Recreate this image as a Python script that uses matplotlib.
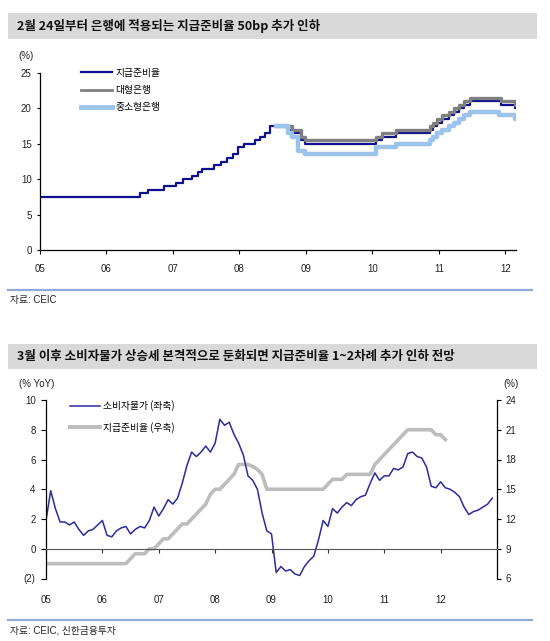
import matplotlib
matplotlib.use('Agg')
import matplotlib.pyplot as plt
import numpy as np
from matplotlib.patches import Rectangle
from matplotlib.lines import Line2D

plt.rcParams['font.family'] = ['Liberation Sans', 'Noto Sans CJK KR', 'DejaVu Sans']

# ---------------- data ----------------
title_top = "2월 24일부터 은행에 적용되는 지급준비율 50bp 추가 인하"
title_bottom = "3월 이후 소비자물가 상승세 본격적으로 둔화되면 지급준비율 1~2차례 추가 인하 전망"
source_top = "자료: CEIC"
source_bottom = "자료: CEIC, 신한금융투자"

top_labels = ["지급준비율", "대형은행", "중소형은행"]
bottom_labels = ["소비자물가 (좌축)", "지급준비율 (우축)"]

year_ticks = [2005, 2006, 2007, 2008, 2009, 2010, 2011, 2012]
year_labels = ["05", "06", "07", "08", "09", "10", "11", "12"]

# Reserve requirement ratio (step change points, decimal year)
rrr_dates = [2005.0, 2006.51, 2006.62, 2006.87, 2007.04, 2007.15, 2007.29, 2007.37, 2007.43,
             2007.62, 2007.73, 2007.82, 2007.90, 2007.98, 2008.07, 2008.23, 2008.31, 2008.38,
             2008.46, 2008.73, 2008.79, 2008.93, 2008.98, 2010.05, 2010.15, 2010.36, 2010.87,
             2010.91, 2010.97, 2011.05, 2011.15, 2011.23, 2011.31, 2011.38, 2011.47, 2011.93,
             2012.15, 2012.16]
rrr_vals = [7.5, 8.0, 8.5, 9.0, 9.5, 10.0, 10.5, 11.0, 11.5,
            12.0, 12.5, 13.0, 13.5, 14.5, 15.0, 15.5, 16.0, 16.5,
            17.5, 17.0, 16.5, 15.5, 15.0, 15.5, 16.0, 16.5, 17.0,
            17.5, 18.0, 18.5, 19.0, 19.5, 20.0, 20.5, 21.0, 20.5,
            20.0, 20.0]

big_dates = [2008.55, 2008.79, 2008.93, 2008.98, 2010.05, 2010.15, 2010.36, 2010.87, 2010.91,
             2010.97, 2011.05, 2011.15, 2011.23, 2011.31, 2011.38, 2011.47, 2011.93, 2012.15, 2012.16]
big_vals = [17.5, 17.0, 16.0, 15.5, 16.0, 16.5, 17.0, 17.5, 18.0,
            18.5, 19.0, 19.5, 20.0, 20.5, 21.0, 21.5, 21.0, 20.5, 20.5]

small_dates = [2008.55, 2008.73, 2008.79, 2008.88, 2008.98, 2010.05, 2010.36, 2010.87, 2010.91,
               2010.97, 2011.05, 2011.15, 2011.23, 2011.31, 2011.38, 2011.47, 2011.90, 2012.15, 2012.16]
small_vals = [17.5, 16.5, 16.0, 14.0, 13.5, 14.5, 15.0, 15.5, 16.0,
              16.5, 17.0, 17.5, 18.0, 18.5, 19.0, 19.5, 19.0, 18.5, 18.5]

# Monthly CPI YoY, Jan 2005 - Dec 2012
cpi = [1.9, 3.9, 2.7, 1.8, 1.8, 1.6, 1.8, 1.3, 0.9, 1.2, 1.3, 1.6,
       1.9, 0.9, 0.8, 1.2, 1.4, 1.5, 1.0, 1.3, 1.5, 1.4, 1.9, 2.8,
       2.2, 2.7, 3.3, 3.0, 3.4, 4.4, 5.6, 6.5, 6.2, 6.5, 6.9, 6.5,
       7.1, 8.7, 8.3, 8.5, 7.7, 7.1, 6.3, 4.9, 4.6, 4.0, 2.4, 1.2,
       1.0, -1.6, -1.2, -1.5, -1.4, -1.7, -1.8, -1.2, -0.8, -0.5, 0.6, 1.9,
       1.5, 2.7, 2.4, 2.8, 3.1, 2.9, 3.3, 3.5, 3.6, 4.4, 5.1, 4.6,
       4.9, 4.9, 5.4, 5.3, 5.5, 6.4, 6.5, 6.2, 6.1, 5.5, 4.2, 4.1,
       4.5, 4.1, 4.0, 3.8, 3.5, 2.8, 2.3, 2.5, 2.6, 2.8, 3.0, 3.4]

# Monthly reserve requirement ratio, Jan 2005 - Feb 2012
rrr_monthly = [7.5] * 12 + \
    [7.5, 7.5, 7.5, 7.5, 7.5, 7.5, 8.0, 8.5, 8.5, 8.5, 9.0, 9.0] + \
    [9.5, 10.0, 10.0, 10.5, 11.0, 11.5, 11.5, 12.0, 12.5, 13.0, 13.5, 14.5] + \
    [15.0, 15.0, 15.5, 16.0, 16.5, 17.5, 17.5, 17.5, 17.3, 17.0, 16.5, 15.0] + \
    [15.0] * 12 + \
    [15.5, 16.0, 16.0, 16.0, 16.5, 16.5, 16.5, 16.5, 16.5, 16.5, 17.5, 18.0] + \
    [18.5, 19.0, 19.5, 20.0, 20.5, 21.0, 21.0, 21.0, 21.0, 21.0, 21.0, 20.5] + \
    [20.5, 20.0]

left_ticks = [-2, 0, 2, 4, 6, 8, 10]
left_labels = ["(2)", "0", "2", "4", "6", "8", "10"]
right_ticks = [6, 9, 12, 15, 18, 21, 24]
top_yticks = [0, 5, 10, 15, 20, 25]

# ---------------- figure ----------------
W, H = 550, 641
fig = plt.figure(figsize=(5.5, 6.41), dpi=100)


def fx(px):
    return px / W


def fy(py):
    return 1 - py / H


DARK = '#10108f'
GREY = '#7f7f7f'
LIGHT = '#9cc3ea'
CPI_C = '#2b2b9c'
RRR_G = '#bdbdbd'
SEP = '#8eaad8'
TXT = '#222222'
cjk = ['Noto Sans CJK KR', 'DejaVu Sans']

# title bars
for y0, y1, t in [(13, 39, title_top), (343.5, 369, title_bottom)]:
    fig.patches.append(Rectangle((fx(8), fy(y1)), fx(537) - fx(8), fy(y0) - fy(y1),
                                 transform=fig.transFigure, facecolor='#d9d9d9',
                                 edgecolor='none', zorder=0))
    fig.text(fx(17), fy((y0 + y1) / 2), t, fontsize=9, fontweight='bold', family=cjk,
             ha='left', va='center', color='#111111')

# separators and sources
for ys, src in [(290, source_top), (620, source_bottom)]:
    fig.add_artist(Line2D([fx(8), fx(532)], [fy(ys), fy(ys)], transform=fig.transFigure,
                          color=SEP, lw=1.6))
    fig.text(fx(10), fy(ys + 10.5), src, fontsize=7, family=['Liberation Sans', 'Noto Sans CJK KR'],
             ha='left', va='center', color=TXT)

# ---------------- top chart ----------------
ax1 = fig.add_axes([fx(40), fy(250), fx(516) - fx(40), fy(73) - fy(250)])
ax1.step(rrr_dates, rrr_vals, where='post', color=DARK, lw=1.6, zorder=2)
ax1.step(big_dates, big_vals, where='post', color=GREY, lw=2.4, zorder=3)
ax1.step(small_dates, small_vals, where='post', color=LIGHT, lw=3.2, zorder=4)
ax1.set_xlim(2005, 2012.16)
ax1.set_ylim(0, 25)
ax1.set_yticks(top_yticks)
ax1.set_xticks(year_ticks)
ax1.set_xticklabels(year_labels)
for s in ['top', 'right']:
    ax1.spines[s].set_visible(False)
for s in ['left', 'bottom']:
    ax1.spines[s].set_color('#000000')
    ax1.spines[s].set_linewidth(0.9)
ax1.tick_params(axis='y', length=2.5, width=0.8, pad=3.5, labelsize=7, labelcolor=TXT)
ax1.tick_params(axis='x', length=3, width=0.8, pad=7, labelsize=7, labelcolor=TXT)
handles1 = [Line2D([], [], color=DARK, lw=1.6), Line2D([], [], color=GREY, lw=2.0),
            Line2D([], [], color=LIGHT, lw=3.5)]
leg1 = ax1.legend(handles1, top_labels, loc='upper left', bbox_to_anchor=(0.086, 1.03),
                  frameon=False, fontsize=7, handlelength=3.2, handletextpad=0.35,
                  labelspacing=0.75, borderpad=0, borderaxespad=0,
                  prop={'family': cjk, 'size': 7})
fig.text(fx(18), fy(56), "(%)", fontsize=7, ha='left', va='center', color=TXT)

# ---------------- bottom chart ----------------
ax2 = fig.add_axes([fx(46), fy(578.5), fx(497) - fx(46), fy(400) - fy(578.5)])
ax2r = ax2.twinx()
x_rrr = 2005 + np.arange(len(rrr_monthly)) / 12
x_cpi = 2005 + np.arange(len(cpi)) / 12
ax2r.plot(x_rrr, rrr_monthly, color=RRR_G, lw=2.6, solid_joinstyle='round')
ax2.plot(x_cpi, cpi, color=CPI_C, lw=1.1)
ax2.set_zorder(ax2r.get_zorder() + 1)
ax2.patch.set_visible(False)

ax2.set_xlim(2005, 2013)
ax2.set_ylim(-2, 10)
ax2r.set_ylim(6, 24)
ax2.set_yticks(left_ticks)
ax2.set_yticklabels(left_labels)
ax2r.set_yticks(right_ticks)
ax2.set_xticks(year_ticks)
ax2.set_xticklabels(year_labels)

for s in ['top', 'right']:
    ax2.spines[s].set_visible(False)
ax2.spines['bottom'].set_position(('data', 0))
ax2.spines['bottom'].set_color('#555555')
ax2.spines['bottom'].set_linewidth(0.8)
ax2.spines['left'].set_color('#000000')
ax2.spines['left'].set_linewidth(0.9)
for s in ['top', 'left', 'bottom']:
    ax2r.spines[s].set_visible(False)
ax2r.spines['right'].set_color('#000000')
ax2r.spines['right'].set_linewidth(0.9)

ax2.tick_params(axis='y', length=3.5, width=0.8, pad=4, labelsize=7, labelcolor=TXT)
ax2r.tick_params(axis='y', length=3, width=0.8, pad=3, labelsize=7, labelcolor=TXT)
ax2.tick_params(axis='x', length=3, width=0.8, pad=30, labelsize=7, labelcolor=TXT,
                color='#333333')

handles2 = [Line2D([], [], color=CPI_C, lw=1.1), Line2D([], [], color=RRR_G, lw=2.8)]
leg2 = ax2.legend(handles2, bottom_labels, loc='upper left', bbox_to_anchor=(0.053, 0.997),
                  frameon=False, handlelength=3.1, handletextpad=0.35,
                  labelspacing=1.05, borderpad=0, borderaxespad=0,
                  prop={'family': cjk, 'size': 7})
fig.text(fx(19), fy(384), "(% YoY)", fontsize=7, ha='left', va='center', color=TXT)
fig.text(fx(503), fy(384), "(%)", fontsize=7, ha='left', va='center', color=TXT)

fig.savefig('out.png', dpi=100)
